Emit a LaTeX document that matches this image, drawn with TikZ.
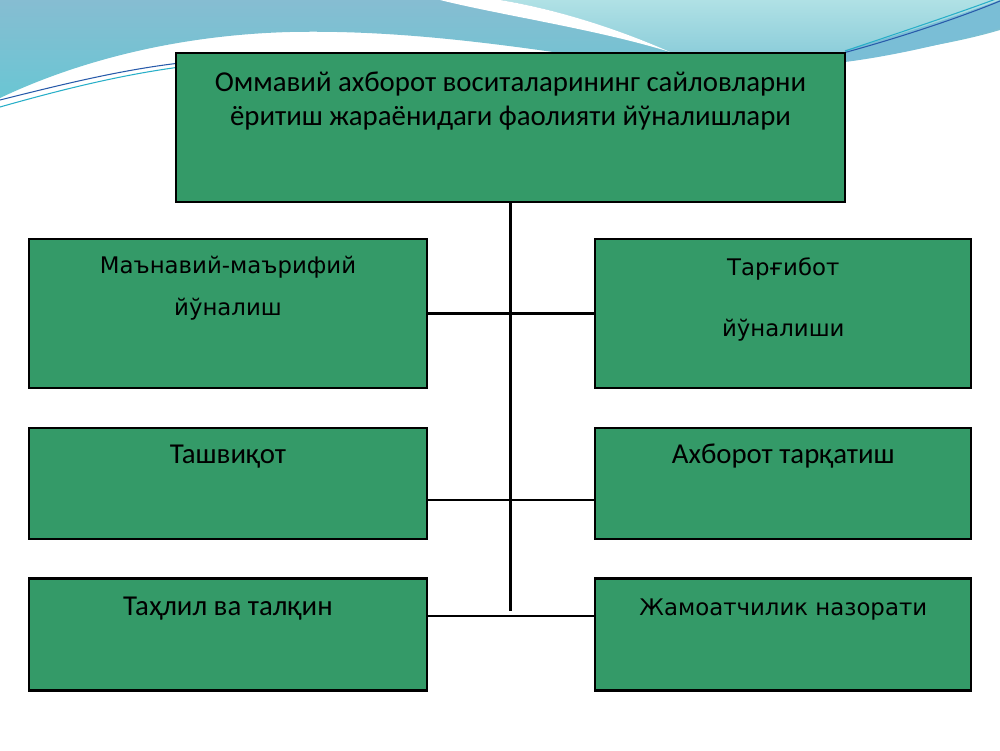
\documentclass[tikz,border=0pt]{standalone}
\usepackage{fontspec}
\setmainfont{DejaVu Sans}
\newfontfamily\calfont{Carlito}
\usetikzlibrary{positioning}
\definecolor{boxgreen}{RGB}{52,154,104}
\definecolor{skyblue}{RGB}{134,189,210}
\definecolor{skyteal}{RGB}{106,198,211}
\definecolor{paleteal}{RGB}{176,225,229}
\definecolor{midteal}{RGB}{140,205,218}
\definecolor{bandblue}{RGB}{122,190,214}
\definecolor{linedark}{RGB}{40,90,170}
\definecolor{linelight}{RGB}{40,175,200}
\tikzset{
  branch/.style={draw=black, line width=1.3pt, fill=boxgreen, inner sep=0pt},
  caption/.style={align=center, anchor=base, inner sep=0pt},
  calib/.style={font=\calfont\fontsize{16.4}{19.5}\selectfont},
  deja/.style={font=\fontsize{13}{24}\selectfont},
  link/.style={draw=black, line width=1.2pt}
}

\begin{document}
\begin{tikzpicture}
    \useasboundingbox (0,0) rectangle (20,15);
    % background wave
    \shade[top color=skyblue, bottom color=skyteal] (0,15) -- (20,15) -- (20,14.4)
        .. controls (19,14.1) and (17.6,13.9) .. (16.9,13.88) -- (11.2,13.94)
        .. controls (9.4,14.2) and (7.6,14.4) .. (5.8,14.36)
        .. controls (3.6,14.3) and (1.6,13.8) .. (0,13.04) -- cycle;
    \shade[top color=paleteal, bottom color=midteal] (10,15)
        .. controls (11.2,14.8) and (12.4,14.4) .. (13.4,13.96) -- (16.9,13.92) -- (20,14.6) -- (20,15) -- cycle;
    \fill[white] (8.8,15) .. controls (10,14.7) and (12,14.4) .. (13.4,13.96)
        .. controls (12.4,14.4) and (11.2,14.8) .. (10,15) -- cycle;
    \fill[bandblue] (16.9,14.0) .. controls (18,14.3) and (19.2,14.7) .. (20,15) -- (20,14.44)
        .. controls (19.2,14.2) and (18,13.9) .. (16.9,13.76) -- cycle;
    \draw[linedark, line width=0.6pt] (16.9,13.95) .. controls (18,14.25) and (19.2,14.65) .. (20,14.98);
    \draw[linelight, line width=0.6pt] (16.9,13.98) .. controls (18,14.35) and (19.2,14.75) .. (20,15.05);
    \draw[linedark, line width=0.6pt] (0,13.0) .. controls (1.2,13.3) and (2.4,13.6) .. (3.6,13.74);
    \draw[linelight, line width=0.6pt] (0,12.86) .. controls (1.2,13.2) and (2.4,13.5) .. (3.6,13.66);

    % boxes
    \node[branch, minimum width=13.38cm, minimum height=2.98cm] (head) at (10.21,12.45) {};
    \node[branch, minimum width=7.96cm, minimum height=2.98cm] (manav) at (4.56,8.73) {};
    \node[branch, minimum width=7.52cm, minimum height=2.98cm, right=3.32cm of manav] (targ) {};
    \node[branch, minimum width=7.96cm, minimum height=2.22cm, below=0.76cm of manav] (tash) {};
    \node[branch, minimum width=7.52cm, minimum height=2.22cm, right=3.32cm of tash] (axbor) {};
    \node[branch, minimum width=7.96cm, minimum height=2.24cm, below=0.74cm of tash] (tahlil) {};
    \node[branch, minimum width=7.52cm, minimum height=2.24cm, right=3.32cm of tahlil] (jamoat) {};

    % texts (base = last line)
    \node[caption, calib] (headtxt) at ([yshift=-1.47cm]head.north)
        {Оммавий ахборот воситаларининг сайловларни\\ёритиш жараёнидаги фаолияти йўналишлари};
    \node[caption, deja] (manavtxt) at ([yshift=-1.56cm]manav.north) {Маънавий-маърифий\\йўналиш};
    \node[caption, deja] (targtxt) at ([yshift=-1.98cm]targ.north) {Тарғибот\\[0.39cm]йўналиши};
    \node[caption, calib] (tashtxt) at ([yshift=-0.73cm]tash.north) {Ташвиқот};
    \node[caption, calib] (axbortxt) at ([yshift=-0.73cm]axbor.north) {Ахборот тарқатиш};
    \node[caption, calib] (tahliltxt) at ([yshift=-0.76cm]tahlil.north) {Таҳлил ва талқин};
    \node[caption, deja] (jamoattxt) at ([yshift=-0.76cm]jamoat.north) {Жамоатчилик назорати};

    % connectors
    \coordinate (spineend) at (head.south |- 0,2.78);
    \draw[link] (head.south) -- (spineend);
    \draw[link] (manav.east) -- (targ.west);
    \draw[link] ([yshift=-0.33cm]tash.east) -- ([yshift=-0.33cm]axbor.west);
    \draw[link] ([yshift=0.38cm]tahlil.east) -- ([yshift=0.38cm]jamoat.west);
\end{tikzpicture}
\end{document}
